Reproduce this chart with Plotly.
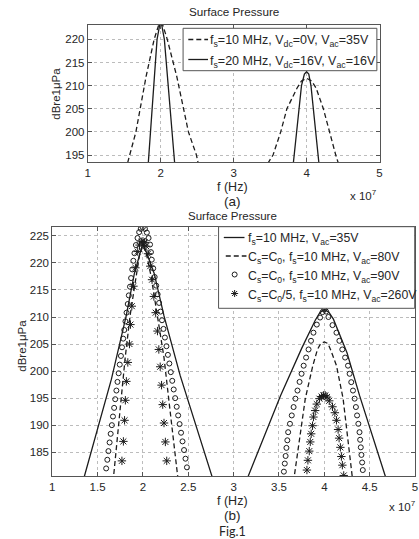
import plotly.graph_objects as go

W, H = 419, 539

# ---------------- panel (a): surface pressure, f in units of 1e7 Hz ----------------
a_fs10_f = [1.49, 1.577, 1.66, 1.80, 1.91, 1.97, 2.00, 2.03, 2.09, 2.22, 2.38, 2.49, 2.53, None,
            3.44, 3.48, 3.54, 3.645, 3.73, 3.87, 3.93, 4.00, 4.07, 4.13, 4.23, 4.31, 4.40, 4.43, 4.47]
a_fs10_db = [190, 195, 200, 212, 220, 223, 223.6, 223, 220, 212, 200, 195, 192, None,
             191.5, 193.5, 195, 200, 205, 209.5, 211, 211.6, 211, 209.5, 205, 200, 195, 193.5, 191.5]

a_fs20_f = [1.815, 1.83, 1.95, 1.985, 2.00, 2.015, 2.05, 2.19, 2.205, None,
            3.80, 3.82, 3.93, 3.97, 4.00, 4.03, 4.06, 4.17, 4.19]
a_fs20_db = [190, 193.5, 220, 223, 223.6, 223, 220, 193.5, 190, None,
             190, 193.5, 210, 212.5, 213, 212.5, 210, 193.5, 190]

# ---------------- panel (b) ----------------
b_35_f = [1.33, 1.355, 1.652, 1.815, 1.906, 2.00, 2.123, 2.232, 2.41, 2.764, 2.79, None,
          3.14, 3.174, 3.518, 3.75, 3.90, 3.95, 4.00, 4.05, 4.10, 4.25, 4.388, 4.67, 4.70]
b_35_db = [178.8, 180.6, 198.5, 210.2, 218.1, 223.7, 218.1, 210.2, 199.2, 180.6, 179.0, None,
           179.7, 181.1, 195.5, 204.2, 209.4, 210.8, 211.4, 210.9, 209.6, 203.4, 195.5, 180.7, 179.1]

b_80_f = [1.67, 1.681, 1.745, 1.804, 1.86, 1.92, 1.96, 2.00, 2.04, 2.09, 2.16, 2.232, 2.30, 2.377, 2.39, None,
          3.655, 3.67, 3.79, 3.873, 3.924, 3.96, 4.00, 4.04, 4.068, 4.134, 4.207, 4.308, 4.325]
b_80_db = [179.5, 181.4, 192.0, 202.5, 210.5, 217.5, 221.3, 223.3, 221.5, 217.5, 210.5, 202.5, 192.5, 181.4, 179.5, None,
           178.0, 180.7, 194.9, 201.0, 204.0, 205.1, 205.4, 205.1, 204.0, 201.0, 194.9, 180.7, 178.0]

b_90_f = [1.594, 1.607, 1.619, 1.632, 1.644, 1.657, 1.669, 1.682, 1.694, 1.707, 1.719, 1.732, 1.744,
          1.757, 1.769, 1.782, 1.794, 1.807, 1.819, 1.832, 1.844, 1.857, 1.869, 1.882, 1.894,
          1.906, 1.922, 1.940, 1.958, 1.976, 1.998, 2.022, 2.043, 2.062, 2.078, 2.088,
          2.097, 2.113, 2.129, 2.146, 2.162, 2.178, 2.194, 2.210, 2.226, 2.242, 2.259, 2.275,
          2.291, 2.307, 2.323, 2.339, 2.355, 2.372, 2.388, 2.404, 2.420, 2.436, 2.453, 2.469, 2.485,
          3.554, 3.564, 3.573, 3.582, 3.592, 3.601, 3.621, 3.641, 3.661, 3.681, 3.704, 3.727, 3.749,
          3.772, 3.799, 3.826, 3.853, 3.880, 3.917, 3.953, 3.980, 4.000,
          4.020, 4.045, 4.090, 4.134, 4.166, 4.198, 4.229, 4.261, 4.279, 4.297, 4.316, 4.334,
          4.348, 4.361, 4.375, 4.388, 4.395, 4.402, 4.409, 4.417, 4.424]
b_90_db = [182.0, 183.6, 185.2, 186.8, 188.4, 190.0, 191.6, 193.2, 194.8, 196.4, 198.0, 199.6, 201.2,
           202.8, 204.4, 206.0, 207.6, 209.2, 210.8, 212.4, 214.0, 215.6, 217.2, 218.8, 220.4,
           221.8, 223.3, 224.6, 225.7, 226.3, 226.6, 226.3, 225.6, 224.6, 223.4, 222.0,
           220.6, 219.0, 217.4, 215.8, 214.2, 212.6, 211.0, 209.4, 207.8, 206.2, 204.6, 203.0,
           201.4, 199.8, 198.2, 196.6, 195.0, 193.4, 191.8, 190.2, 188.6, 187.0, 185.4, 183.8, 182.2,
           181.4, 182.9, 184.3, 185.8, 187.2, 188.7, 190.25, 191.8, 193.35, 194.9, 196.4, 198.0, 199.5,
           201.0, 202.5, 204.0, 205.6, 207.1, 208.6, 209.9, 210.9, 211.4,
           211.0, 210.0, 208.5, 207.1, 205.6, 204.0, 202.5, 201.0, 199.5, 197.95, 196.4, 194.9,
           193.35, 191.8, 190.25, 188.7, 187.3, 185.9, 184.5, 183.1, 181.7]

b_260_f = [1.768, 1.784, 1.797, 1.806, 1.817, 1.833, 1.851, 1.862, 1.877, 1.895, 1.917, 1.942, 1.962, 1.982, 2.000,
           2.018, 2.035, 2.055, 2.080, 2.100, 2.120, 2.140, 2.160, 2.175, 2.190, 2.205, 2.218, 2.232, 2.247, 2.262,
           3.808, 3.819, 3.834, 3.845, 3.855, 3.870, 3.880, 3.899, 3.917, 3.946, 3.970, 3.990,
           4.010, 4.030, 4.054, 4.090, 4.116, 4.134, 4.152, 4.163, 4.177, 4.188, 4.199, 4.214]
b_260_db = [183.4, 187.0, 190.9, 194.6, 198.1, 201.6, 205.0, 208.6, 212.0, 215.7, 219.1, 222.1, 223.3, 223.9, 224.0,
            223.8, 223.1, 221.7, 219.4, 216.9, 213.8, 210.8, 207.4, 204.0, 200.8, 197.4, 193.8, 190.4, 186.9, 183.4,
            181.7, 183.5, 185.2, 186.9, 188.4, 189.9, 191.5, 192.7, 193.9, 194.9, 195.3, 195.5,
            195.5, 195.2, 194.5, 193.4, 192.3, 190.9, 189.2, 187.6, 185.9, 184.2, 182.6, 180.7]

a_labels = ["f<sub>s</sub>=10 MHz, V<sub>dc</sub>=0V, V<sub>ac</sub>=35V",
            "f<sub>s</sub>=20 MHz, V<sub>dc</sub>=16V, V<sub>ac</sub>=16V"]
b_labels = ["f<sub>s</sub>=10 MHz, V<sub>ac</sub>=35V",
            "C<sub>s</sub>=C<sub>0</sub>, f<sub>s</sub>=10 MHz, V<sub>ac</sub>=80V",
            "C<sub>s</sub>=C<sub>0</sub>, f<sub>s</sub>=10 MHz, V<sub>ac</sub>=90V",
            "C<sub>s</sub>=C<sub>0</sub>/5, f<sub>s</sub>=10 MHz, V<sub>ac</sub>=260V"]

a_xticks = [1, 2, 3, 4, 5]
a_yticks = [195, 200, 205, 210, 215, 220]
b_xticks = [1, 1.5, 2, 2.5, 3, 3.5, 4, 4.5, 5]
b_xtext = ["1", "1.5", "2", "2.5", "3", "3.5", "4", "4.5", "5"]
b_yticks = [185, 190, 195, 200, 205, 210, 215, 220, 225]

# ---------------- styling ----------------
INK = "#1c1c1c"
TXT = "#262626"
BOX = "#555555"
GRID = "#bcbcbc"
FONT = "Liberation Sans, Arial, sans-serif"
LW = 1.3
DASH = "5px,3px"


def px(x):
    return x / W


def py(y):
    return 1 - y / H


fig = go.Figure()

fig.add_trace(go.Scatter(x=a_fs10_f, y=a_fs10_db, mode="lines", xaxis="x", yaxis="y",
                         line=dict(color=INK, width=LW, dash=DASH), connectgaps=False))
fig.add_trace(go.Scatter(x=a_fs20_f, y=a_fs20_db, mode="lines", xaxis="x", yaxis="y",
                         line=dict(color=INK, width=LW), connectgaps=False))

fig.add_trace(go.Scatter(x=b_35_f, y=b_35_db, mode="lines", xaxis="x2", yaxis="y2",
                         line=dict(color=INK, width=LW), connectgaps=False))
fig.add_trace(go.Scatter(x=b_80_f, y=b_80_db, mode="lines", xaxis="x2", yaxis="y2",
                         line=dict(color=INK, width=LW, dash=DASH), connectgaps=False))
fig.add_trace(go.Scatter(x=b_90_f, y=b_90_db, mode="markers", xaxis="x2", yaxis="y2",
                         marker=dict(symbol="circle-open", size=5, color=INK, line=dict(width=1, color=INK))))
fig.add_trace(go.Scatter(x=b_260_f, y=b_260_db, mode="markers", xaxis="x2", yaxis="y2",
                         marker=dict(symbol="asterisk-open", size=7, color=INK, line=dict(width=1, color=INK))))

axis_common = dict(showgrid=True, gridcolor=GRID, griddash="dot", gridwidth=1,
                   showline=True, linecolor=BOX, linewidth=1, mirror="ticks",
                   ticks="inside", ticklen=4, tickcolor=BOX, zeroline=False,
                   tickfont=dict(size=11.5, color=TXT, family=FONT))

fig.update_layout(
    width=W, height=H, autosize=False,
    margin=dict(l=0, r=0, t=0, b=0),
    paper_bgcolor="white", plot_bgcolor="white",
    showlegend=False,
    font=dict(family=FONT, color=TXT),
    xaxis=dict(domain=[px(86), px(382)], anchor="y", range=[1, 5], tickvals=a_xticks, **axis_common),
    yaxis=dict(domain=[py(162), py(25)], anchor="x", range=[193.5, 223.1], tickvals=a_yticks, **axis_common),
    xaxis2=dict(domain=[px(50), px(418)], anchor="y2", range=[1, 5], tickvals=b_xticks, ticktext=b_xtext,
                **axis_common),
    yaxis2=dict(domain=[py(476), py(226.7)], anchor="x2", range=[180.6, 226.7], tickvals=b_yticks, **axis_common),
)

shapes = []
annotations = []


def text(x, y, s, size, family=FONT, xanchor="center", yanchor="middle", **kw):
    annotations.append(dict(x=px(x), y=py(y), xref="paper", yref="paper", text=s, showarrow=False,
                            xanchor=xanchor, yanchor=yanchor,
                            font=dict(size=size, color=TXT, family=family), **kw))


# titles and axis labels
text(234, 12, "Surface Pressure", 11.7)
text(233, 187, "f (Hz)", 12.5)
text(233, 201.5, "(a)", 13.5)
text(233, 216, "Surface Pressure", 11.5)
text(233, 501, "f (Hz)", 12.5)
text(233, 515, "(b)", 13.5)
text(233, 531, "Fig.1", 12.5, family="Lato, Open Sans, sans-serif")
text(54, 93.5, "dBre1\u03bcPa", 11.5, textangle=-90)
text(19, 346, "dBre1\u03bcPa", 11.5, textangle=-90)
text(366, 195, "x 10<sup>7</sup>", 11.5)
text(405, 506, "x 10<sup>7</sup>", 11.5)

# legend of panel (a)
shapes.append(dict(type="rect", xref="paper", yref="paper", x0=px(182.7), x1=px(379.3),
                   y0=py(70.7), y1=py(28.3), line=dict(color=BOX, width=1), fillcolor="white", layer="above"))
a_rows = [39.5, 59.5]
a_dash = [DASH, "solid"]
for r, lab, d in zip(a_rows, a_labels, a_dash):
    shapes.append(dict(type="line", xref="paper", yref="paper", x0=px(188), x1=px(208), y0=py(r), y1=py(r),
                       line=dict(color=INK, width=LW, dash=d), layer="above"))
    text(208, r + 2, lab, 12.5, xanchor="left")

# legend of panel (b)
shapes.append(dict(type="rect", xref="paper", yref="paper", x0=px(218.7), x1=px(417.7),
                   y0=py(308.3), y1=py(226.7), line=dict(color=BOX, width=1), fillcolor="white", layer="above"))
b_rows = [237.5, 256, 274.5, 293.5]
for i, (r, lab) in enumerate(zip(b_rows, b_labels)):
    if i == 0:
        shapes.append(dict(type="line", xref="paper", yref="paper", x0=px(224), x1=px(245), y0=py(r), y1=py(r),
                           line=dict(color=INK, width=LW), layer="above"))
    elif i == 1:
        shapes.append(dict(type="line", xref="paper", yref="paper", x0=px(226), x1=px(247), y0=py(r), y1=py(r),
                           line=dict(color=INK, width=LW, dash=DASH), layer="above"))
    elif i == 2:
        shapes.append(dict(type="circle", xref="paper", yref="paper", xsizemode="pixel", ysizemode="pixel",
                           xanchor=px(235), yanchor=py(r), x0=-2.5, x1=2.5, y0=-2.5, y1=2.5,
                           line=dict(color=INK, width=1), layer="above"))
    else:
        shapes.append(dict(type="path", xref="paper", yref="paper", xsizemode="pixel", ysizemode="pixel",
                           xanchor=px(235), yanchor=py(r),
                           path="M-3.5,0L3.5,0M0,-3.5L0,3.5M-2.5,-2.5L2.5,2.5M-2.5,2.5L2.5,-2.5",
                           line=dict(color=INK, width=1), layer="above"))
    text(246.5, r + 2, lab, 12.3, xanchor="left")

fig.update_layout(shapes=shapes, annotations=annotations)
fig.write_html("out.html")
